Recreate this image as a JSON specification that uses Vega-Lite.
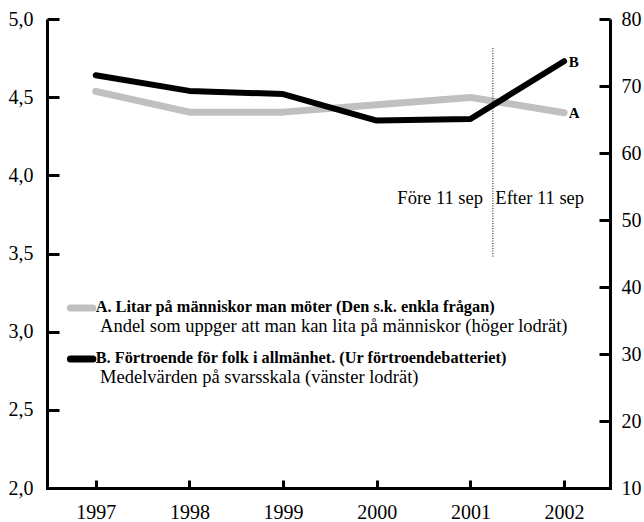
{
  "$schema": "https://vega.github.io/schema/vega-lite/v6.json",
  "width": 563,
  "height": 469,
  "autosize": {"type": "none"},
  "padding": {"left": 47, "top": 19, "right": 34, "bottom": 34},
  "background": "white",
  "config": {
    "view": {"stroke": null},
    "font": "Liberation Serif",
    "text": {"font": "Liberation Serif"},
    "axis": {"grid": false, "title": null, "domainColor": "black", "domainWidth": 3, "tickColor": "black", "tickWidth": 3, "labelFont": "Liberation Serif", "labelFontSize": 20, "labelColor": "black"}
  },
  "datasets": {
    "b": [
      {"year": 1997, "value": 4.64},
      {"year": 1998, "value": 4.54},
      {"year": 1999, "value": 4.52},
      {"year": 2000, "value": 4.35},
      {"year": 2001, "value": 4.36},
      {"year": 2002, "value": 4.73}
    ],
    "a": [
      {"year": 1997, "value": 69.2},
      {"year": 1998, "value": 66.1},
      {"year": 1999, "value": 66.1},
      {"year": 2000, "value": 67.2},
      {"year": 2001, "value": 68.3},
      {"year": 2002, "value": 66.0}
    ],
    "swatch": [
      {"series": "A", "x": 1996.73, "y": 3.151},
      {"series": "A", "x": 1996.97, "y": 3.151},
      {"series": "B", "x": 1996.73, "y": 2.825},
      {"series": "B", "x": 1996.97, "y": 2.825}
    ],
    "legendBold": [
      {"x": 1997.0, "y": 3.155, "text": "A. Litar på människor man möter (Den s.k. enkla frågan)"},
      {"x": 1997.0, "y": 2.83, "text": "B. Förtroende för folk i allmänhet. (Ur förtroendebatteriet)"}
    ],
    "legendNormal": [
      {"x": 1997.046, "y": 3.035, "text": "Andel som uppger att man kan lita på människor (höger lodrät)"},
      {"x": 1997.046, "y": 2.712, "text": "Medelvärden på svarsskala (vänster lodrät)"}
    ],
    "period": [
      {"x": 2000.22, "y": 3.855, "text": "Före 11 sep"},
      {"x": 2001.266, "y": 3.855, "text": "Efter 11 sep"}
    ],
    "sep": [{"x": 2001.24, "y": 4.814, "y2": 3.477}],
    "labB": [{"x": 2002.05, "y": 4.725, "text": "B"}],
    "labA": [{"x": 2002.05, "y": 66.0, "text": "A"}]
  },
  "resolve": {"scale": {"y": "independent"}, "axis": {"y": "independent"}},
  "layer": [
    {
      "layer": [
        {
          "data": {"name": "a"},
          "mark": {"type": "line", "color": "#c0c0c0", "strokeWidth": 7, "strokeCap": "round", "strokeJoin": "round"},
          "encoding": {
            "x": {"field": "year", "type": "quantitative", "scale": {"domain": [1996.48, 2002.49], "nice": false, "zero": false},
              "axis": {"values": [1997, 1998, 1999, 2000, 2001, 2002], "format": "d", "tickSize": -8, "labelPadding": 22, "domainCap": "square", "labelFont": "Liberation Serif", "labelFontSize": 20}},
            "y": {"field": "value", "type": "quantitative", "scale": {"domain": [10, 80], "nice": false, "zero": false},
              "axis": {"orient": "right", "values": [10, 20, 30, 40, 50, 60, 70, 80], "tickSize": -11, "labelPadding": 22, "labelAlign": "left", "labelFont": "Liberation Serif", "labelFontSize": 20}}
          }
        },
        {
          "data": {"name": "labA"},
          "mark": {"type": "text", "font": "Liberation Serif", "align": "left", "baseline": "middle", "fontWeight": "bold", "fontSize": 15, "color": "black"},
          "encoding": {
            "x": {"field": "x", "type": "quantitative"},
            "y": {"field": "y", "type": "quantitative"},
            "text": {"field": "text"}
          }
        }
      ]
    },
    {
      "layer": [
        {
          "data": {"name": "sep"},
          "mark": {"type": "rule", "color": "black", "strokeWidth": 1, "strokeDash": [1, 1.5]},
          "encoding": {
            "x": {"field": "x", "type": "quantitative"},
            "y": {"field": "y", "type": "quantitative", "scale": {"domain": [2, 5], "nice": false, "zero": false},
              "axis": {"orient": "left", "values": [2, 2.5, 3, 3.5, 4, 4.5, 5], "format": ".1f", "labelExpr": "replace(datum.label, '.', ',')", "tickSize": -12, "labelPadding": 26, "labelFont": "Liberation Serif", "labelFontSize": 20}},
            "y2": {"field": "y2"}
          }
        },
        {
          "data": {"name": "b"},
          "mark": {"type": "line", "color": "#000000", "strokeWidth": 6, "strokeCap": "round", "strokeJoin": "round"},
          "encoding": {
            "x": {"field": "year", "type": "quantitative"},
            "y": {"field": "value", "type": "quantitative"}
          }
        },
        {
          "data": {"name": "swatch"},
          "mark": {"type": "line", "strokeWidth": 7, "strokeCap": "round"},
          "encoding": {
            "x": {"field": "x", "type": "quantitative"},
            "y": {"field": "y", "type": "quantitative"},
            "detail": {"field": "series"},
            "color": {"field": "series", "type": "nominal", "scale": {"domain": ["A", "B"], "range": ["#c0c0c0", "#000000"]}, "legend": null}
          }
        },
        {
          "data": {"name": "legendBold"},
          "mark": {"type": "text", "font": "Liberation Serif", "align": "left", "baseline": "middle", "fontWeight": "bold", "fontSize": 16.3, "color": "black"},
          "encoding": {
            "x": {"field": "x", "type": "quantitative"},
            "y": {"field": "y", "type": "quantitative"},
            "text": {"field": "text"}
          }
        },
        {
          "data": {"name": "legendNormal"},
          "mark": {"type": "text", "font": "Liberation Serif", "align": "left", "baseline": "middle", "fontSize": 18.5, "color": "black"},
          "encoding": {
            "x": {"field": "x", "type": "quantitative"},
            "y": {"field": "y", "type": "quantitative"},
            "text": {"field": "text"}
          }
        },
        {
          "data": {"name": "period"},
          "mark": {"type": "text", "font": "Liberation Serif", "align": "left", "baseline": "middle", "fontSize": 18.5, "color": "black"},
          "encoding": {
            "x": {"field": "x", "type": "quantitative"},
            "y": {"field": "y", "type": "quantitative"},
            "text": {"field": "text"}
          }
        },
        {
          "data": {"name": "labB"},
          "mark": {"type": "text", "font": "Liberation Serif", "align": "left", "baseline": "middle", "fontWeight": "bold", "fontSize": 15, "color": "black"},
          "encoding": {
            "x": {"field": "x", "type": "quantitative"},
            "y": {"field": "y", "type": "quantitative"},
            "text": {"field": "text"}
          }
        }
      ]
    }
  ]
}
